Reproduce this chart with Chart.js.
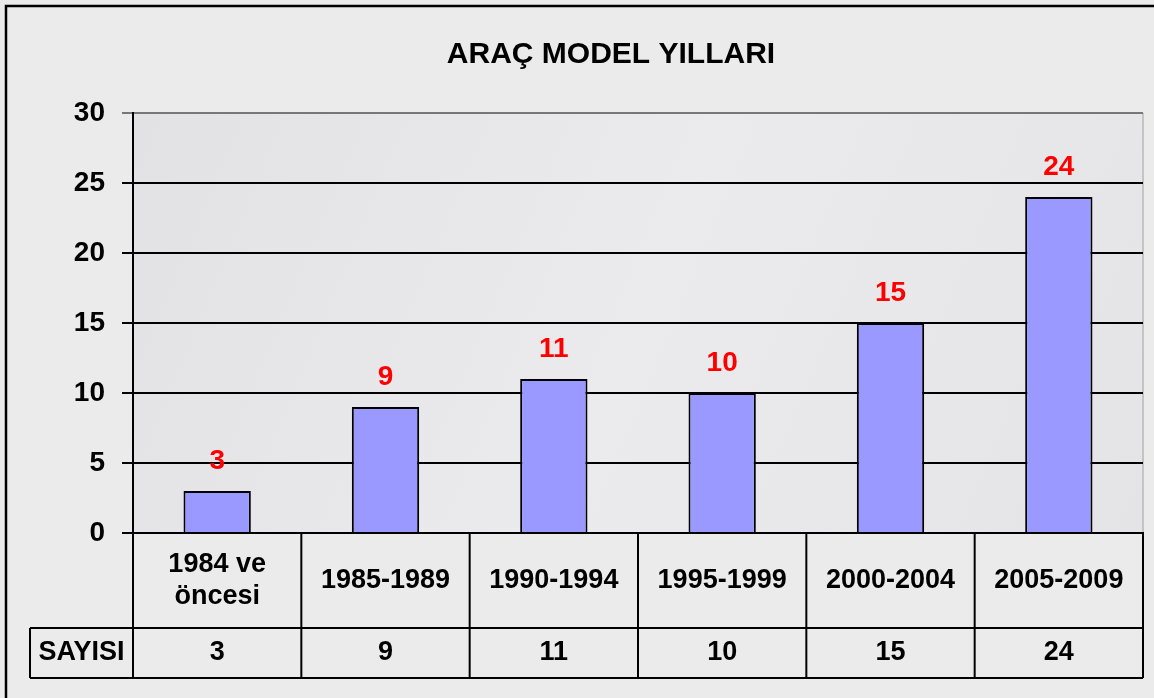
<!DOCTYPE html>
<html>
<head>
<meta charset="utf-8">
<script src="https://cdn.jsdelivr.net/npm/chart.js@4/dist/chart.umd.min.js"></script>
<style>
body{margin:0;background:#ebebeb;}
#wrap{width:1154px;height:698px;}
</style>
</head>
<body>
<div id="wrap"><canvas id="canvas" width="1154" height="698"></canvas></div>
<script>
// data
var categories=[['1984 ve','öncesi'],'1985-1989','1990-1994','1995-1999','2000-2004','2005-2009'];
var counts=[3,9,11,10,15,24];
var yTicks=[0,5,10,15,20,25,30];
var chartTitle='ARAÇ MODEL YILLARI';
var rowLabel='SAYISI';

var FONT="'Liberation Sans', Arial, sans-serif";

//background, frame and plot area fill
var bgPlugin={
	id:'bg',
	beforeDraw:function(chart){
		var ctx=chart.ctx, a=chart.chartArea;
		ctx.save();
		ctx.fillStyle='#ebebeb';
		ctx.fillRect(0,0,chart.width,chart.height);
		ctx.strokeStyle='#000';
		ctx.lineWidth=2.5;
		ctx.beginPath();
		ctx.moveTo(6,chart.height+2);
		ctx.lineTo(6,6);
		ctx.lineTo(chart.width+2,6);
		ctx.stroke();
		var g=ctx.createLinearGradient(a.left,a.top,a.right,a.bottom);
		g.addColorStop(0,'#e2e2e4');
		g.addColorStop(0.5,'#ebebed');
		g.addColorStop(1,'#e4e4e6');
		ctx.fillStyle=g;
		ctx.fillRect(a.left,a.top,a.right-a.left,a.bottom-a.top);
		ctx.strokeStyle='#b8b8b8';
		ctx.lineWidth=1.5;
		ctx.beginPath();
		ctx.moveTo(a.right,a.top);
		ctx.lineTo(a.right,a.bottom);
		ctx.stroke();
		ctx.restore();
	}
};

//red value labels above the bars
var labelPlugin={
	id:'vlabels',
	afterDatasetsDraw:function(chart){
		var ctx=chart.ctx;
		var meta=chart.getDatasetMeta(0);
		ctx.save();
		ctx.fillStyle='#ff0000';
		ctx.font='bold 28px '+FONT;
		ctx.textAlign='center';
		ctx.textBaseline='alphabetic';
		for(var i=0;i<meta.data.length;i++){
			var bar=meta.data[i];
			ctx.fillText(String(counts[i]),bar.x,bar.y-22);
		}
		ctx.restore();
	}
};

//title and the data table under the x axis
var tablePlugin={
	id:'dtable',
	afterDraw:function(chart){
		var ctx=chart.ctx, a=chart.chartArea, xs=chart.scales.x;
		var n=categories.length;
		var colW=(a.right-a.left)/n;
		var top=a.bottom, mid=a.bottom+95, bot=a.bottom+145, left=30;
		ctx.save();
		ctx.fillStyle='#000';
		ctx.font='bold 30px '+FONT;
		ctx.textAlign='center';
		ctx.textBaseline='middle';
		ctx.fillText(chartTitle,611,55);

		ctx.strokeStyle='#000';
		ctx.lineWidth=2;
		ctx.beginPath();
		ctx.moveTo(left,mid);ctx.lineTo(a.right,mid);
		ctx.moveTo(left,bot);ctx.lineTo(a.right,bot);
		ctx.moveTo(left,mid);ctx.lineTo(left,bot);
		for(var i=0;i<=n;i++){
			var x=a.left+i*colW;
			ctx.moveTo(x,top);ctx.lineTo(x,bot);
		}
		ctx.stroke();

		ctx.font='bold 27px '+FONT;
		for(var j=0;j<n;j++){
			var cx=xs.getPixelForValue(j);
			var lab=categories[j];
			var cy=(top+mid)/2;
			if(Array.isArray(lab)){
				ctx.fillText(lab[0],cx,cy-16);
				ctx.fillText(lab[1],cx,cy+16);
			}else{
				ctx.fillText(lab,cx,cy);
			}
			ctx.fillText(String(counts[j]),cx,(mid+bot)/2);
		}
		ctx.fillText(rowLabel,(left+a.left)/2,(mid+bot)/2);
		ctx.restore();
	}
};

var ctx=document.getElementById('canvas').getContext('2d');
window.myBar=new Chart(ctx,{
	type:'bar',
	data:{
		labels:categories.map(function(c){return Array.isArray(c)?c.join(' '):c;}),
		datasets:[{
			label:rowLabel,
			data:counts,
			backgroundColor:'#9999ff',
			borderColor:'#000',
			borderWidth:2,
			barPercentage:0.4,
			categoryPercentage:1
		}]
	},
	options:{
		responsive:false,
		animation:false,
		devicePixelRatio:1,
		layout:{padding:{left:0,top:113,right:11,bottom:0}},
		plugins:{legend:{display:false},tooltip:{enabled:false},title:{display:false}},
		scales:{
			x:{
				grid:{display:false},
				border:{display:true,color:'#000',width:2},
				ticks:{display:false},
				afterFit:function(s){s.height=165;}
			},
			y:{
				min:yTicks[0],
				max:yTicks[yTicks.length-1],
				afterBuildTicks:function(s){s.ticks=yTicks.map(function(v){return {value:v};});},
				ticks:{color:'#000',font:{family:FONT,size:28,weight:'bold'},padding:17},
				grid:{
					color:function(c){return c.tick && c.tick.value===30?'#777':'#000';},
					lineWidth:2,
					tickLength:11
				},
				border:{display:true,color:'#000',width:2},
				afterFit:function(s){s.width=133;}
			}
		}
	},
	plugins:[bgPlugin,labelPlugin,tablePlugin]
});
</script>
</body>
</html>
